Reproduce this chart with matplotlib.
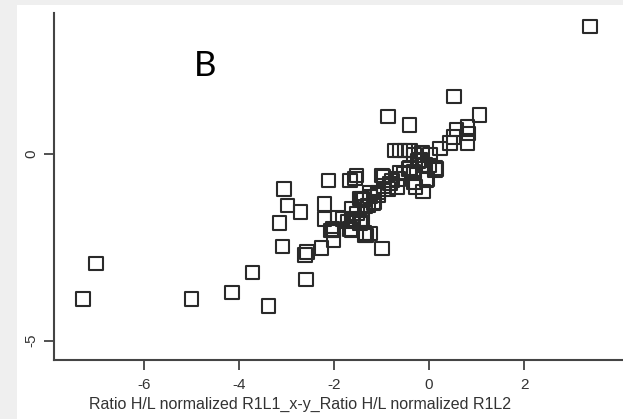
import matplotlib
matplotlib.use("Agg")
import matplotlib.pyplot as plt
import matplotlib.patches as mpatches

# scatter values (x, y)
x_vals = [
    3.39, -7.28, -7.01, -5.00, -4.15, -3.71, -3.38, -2.59, -2.57, -2.61,
    -2.26, -3.08, -3.15, -2.98, -2.70, -3.05, -2.12, -2.20, -2.20, -2.03,
    -2.06, -2.01, -2.01, -0.99, -1.36, -1.33, -1.66, -1.62, -1.41, -1.82,
    -1.62, -1.41, -1.28, -1.15, -1.07, -0.95, -0.86, -0.78, -0.65, -1.53,
    -1.66, -0.99, -0.61, -0.67, -0.42, -0.32, -0.13, -0.03, 0.16, 0.00,
    -0.23, -0.15, -0.32, 0.02, -0.72, -0.61, -0.51, -0.40, 0.23, 0.44,
    0.81, 0.51, 0.83, 0.58, 0.81, 0.53, 1.06, -0.86, -0.41, -0.05,
    -0.29, -0.54, -0.82, -0.96, -1.56, -1.91, -1.70, -1.63, -1.45, -1.35,
    -1.45, -1.24, -1.07, -1.17, -1.35, -1.24, -1.38, -1.52,
    -1.59, -1.45, -1.24, -0.08, 0.13, -0.33, -0.19, 0.13, -0.40,
]
y_vals = [
    3.42, -3.88, -2.93, -3.88, -3.71, -3.17, -4.07, -3.36, -2.62, -2.71,
    -2.52, -2.48, -1.85, -1.38, -1.56, -0.94, -0.71, -1.34, -1.74, -2.01,
    -2.05, -2.04, -2.30, -2.53, -2.12, -2.18, -2.01, -1.74, -1.74, -1.74,
    -1.47, -1.21, -1.38, -1.29, -1.03, -0.85, -0.94, -0.71, -0.67, -0.58,
    -0.71, -0.58, -0.49, -0.89, -0.40, -0.76, -1.00, -0.67, -0.40, -0.31,
    -0.18, 0.04, -0.03, -0.03, 0.09, 0.09, 0.09, 0.09, 0.15, 0.29,
    0.29, 0.46, 0.55, 0.66, 0.73, 1.54, 1.05, 1.00, 0.78, -0.70,
    -0.88, -0.52, -0.79, -0.61, -0.65, -1.72, -1.81, -2.04, -1.81, -2.17,
    -1.19, -1.14, -1.10, -1.32, -1.41, -1.05, -1.23, -1.59,
    -1.77, -1.86, -2.13, -0.29, -0.43, -0.47, -0.16, -0.38, -0.38,
]

x_ticks = [-6, -4, -2, 0, 2]
y_ticks = [0, -5]
x_label = "Ratio H/L normalized R1L1_x-y_Ratio H/L normalized R1L2"
panel_letter = "B"

plt.rcParams['font.family'] = ['Liberation Sans', 'DejaVu Sans']

fig = plt.figure(figsize=(6.23, 4.19), dpi=100, facecolor='#efefef')
# white panel, the grey frame shows on the left and top
fig.patches.append(mpatches.Rectangle((17 / 623, 0), 1, 414 / 419,
                                      transform=fig.transFigure,
                                      facecolor='white', edgecolor='none',
                                      zorder=-10))

ax = fig.add_axes([54 / 623, 59 / 419, 1 - 54 / 623, 347 / 419])
ax.set_facecolor('none')

ax.scatter(x_vals, y_vals, marker='s', s=95, facecolors='none',
           edgecolors='#2a2a2a', linewidths=1.5)

ax.set_xlim(-7.89, 4.08)
ax.set_ylim(-5.52, 3.78)

ax.set_xticks(x_ticks)
ax.set_xticklabels([str(t) for t in x_ticks])
ax.set_yticks(y_ticks)
ax.set_yticklabels([str(t) for t in y_ticks], rotation=90, va='center')

ax.tick_params(axis='both', colors='#333333', labelcolor='#333333',
               labelsize=11, length=7, width=1.2, direction='out')
ax.tick_params(axis='x', pad=6)
ax.tick_params(axis='y', pad=4)

ax.set_xlabel(x_label, fontsize=11.5, color='#333333')
# label sits left of the axes centre in the reference (figure is cropped)
ax.xaxis.set_label_coords(0.433, -0.105)

for side in ('top', 'right'):
    ax.spines[side].set_visible(False)
for side in ('left', 'bottom'):
    ax.spines[side].set_color('#444444')
    ax.spines[side].set_linewidth(1.5)

ax.text(-4.72, 2.37, panel_letter, fontsize=25, color='black',
        family=['Lato', 'DejaVu Sans'], ha='center', va='center')

fig.savefig('out.png', dpi=100, facecolor=fig.get_facecolor())
